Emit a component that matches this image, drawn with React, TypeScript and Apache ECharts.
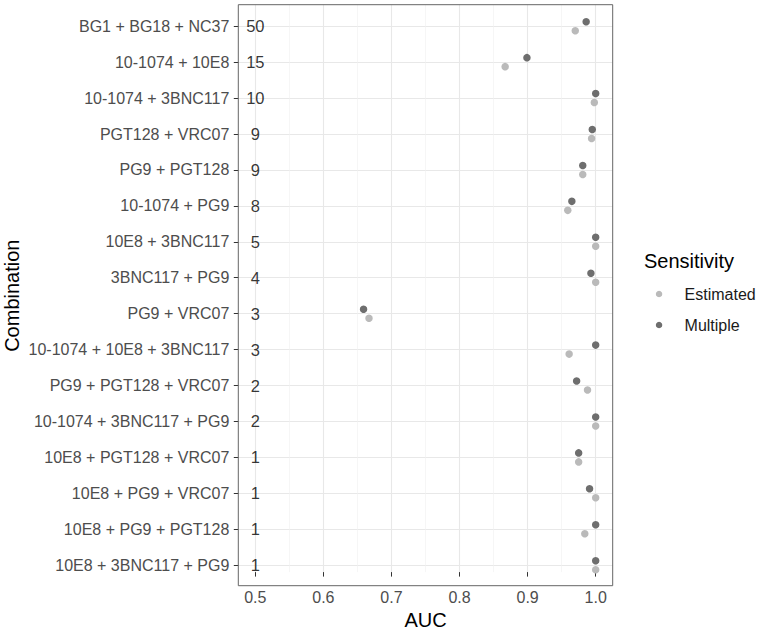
import { useEffect, useRef } from "react";
import * as echarts from "echarts";

const combinations = [
  "BG1 + BG18 + NC37",
  "10-1074 + 10E8",
  "10-1074 + 3BNC117",
  "PGT128 + VRC07",
  "PG9 + PGT128",
  "10-1074 + PG9",
  "10E8 + 3BNC117",
  "3BNC117 + PG9",
  "PG9 + VRC07",
  "10-1074 + 10E8 + 3BNC117",
  "PG9 + PGT128 + VRC07",
  "10-1074 + 3BNC117 + PG9",
  "10E8 + PGT128 + VRC07",
  "10E8 + PG9 + VRC07",
  "10E8 + PG9 + PGT128",
  "10E8 + 3BNC117 + PG9",
];
const counts = [50, 15, 10, 9, 9, 8, 5, 4, 3, 3, 2, 2, 1, 1, 1, 1];
const estimatedAUC = [0.97, 0.867, 0.998, 0.994, 0.981, 0.959, 1.0, 1.0, 0.667, 0.961, 0.988, 1.0, 0.975, 1.0, 0.984, 1.0];
const multipleAUC = [0.986, 0.899, 1.0, 0.995, 0.981, 0.965, 1.0, 0.993, 0.659, 1.0, 0.972, 1.0, 0.975, 0.991, 1.0, 1.0];
const xTicks = [0.5, 0.6, 0.7, 0.8, 0.9, 1.0];
const countPositionX = 0.5;
const xMin = 0.475;
const xMax = 1.025;

const FONT = "'Liberation Sans', Arial, Helvetica, sans-serif";

// layout
const W = 760;
const H = 635;
const P_LEFT = 238.3;
const P_RIGHT = 612.7;
const P_TOP = 4.7;
const P_BOTTOM = 585.7;
const ROW_FIRST = 26.2;
const ROW_LAST = 565.2;

export default function App() {
  const ref = useRef<HTMLDivElement>(null);
  useEffect(() => {
    if (!ref.current) return;
    const chart = echarts.init(ref.current, undefined, { renderer: "svg" });
    const option: any = {
      animation: false,
      backgroundColor: "#ffffff",
      textStyle: { fontFamily: FONT },
      title: {
        text: "Sensitivity",
        left: 644,
        top: 251,
        padding: 0,
        textStyle: { fontSize: 20, fontWeight: "normal", color: "#000", fontFamily: FONT },
      },
      legend: {
        orient: "vertical",
        left: 655.8,
        top: 286,
        padding: 0,
        itemWidth: 41,
        itemHeight: 6.5,
        itemGap: 15,
        selectedMode: false,
        data: [
          { name: "Estimated", icon: "circle" },
          { name: "Multiple", icon: "circle" },
        ],
        textStyle: { fontSize: 16, color: "#1a1a1a", fontFamily: FONT },
      },
      grid: [
        { left: P_LEFT, right: W - P_RIGHT, top: P_TOP, bottom: H - P_BOTTOM, show: false },
        { left: P_LEFT, right: W - P_RIGHT, top: ROW_FIRST, bottom: H - ROW_LAST, show: false },
      ],
      xAxis: [
        {
          gridIndex: 0,
          type: "value",
          min: xMin,
          max: xMax,
          name: "AUC",
          nameLocation: "middle",
          nameGap: 29,
          nameTextStyle: { fontSize: 20, color: "#000", fontFamily: FONT },
          axisLine: { show: false },
          axisTick: { show: true, length: 4.5, customValues: xTicks, lineStyle: { color: "#333" } },
          axisLabel: {
            customValues: xTicks,
            formatter: (v: number) => v.toFixed(1),
            margin: 17,
            fontSize: 16,
            color: "#4d4d4d",
            fontFamily: FONT,
          },
          splitLine: { show: true, lineStyle: { color: "#e8e8e8", width: 1.1 } },
          minorTick: { show: false, splitNumber: 2 },
          minorSplitLine: { show: true, lineStyle: { color: "#f0f0f0", width: 0.6 } },
        },
        { gridIndex: 1, type: "value", min: xMin, max: xMax, show: false },
      ],
      yAxis: [
        { gridIndex: 0, type: "value", show: false },
        {
          gridIndex: 1,
          type: "category",
          data: combinations,
          inverse: true,
          boundaryGap: false,
          name: "Combination",
          nameLocation: "middle",
          nameGap: 216,
          nameRotate: 90,
          nameTextStyle: { fontSize: 20, color: "#000", fontFamily: FONT },
          axisLine: { show: false },
          axisTick: { show: true, interval: 0, length: 4.5, lineStyle: { color: "#333" } },
          axisLabel: { interval: 0, margin: 9, fontSize: 16, color: "#4d4d4d", fontFamily: FONT },
          splitLine: { show: true, interval: 0, lineStyle: { color: "#e8e8e8", width: 1.1 } },
        },
      ],
      series: [
        {
          name: "Estimated",
          type: "scatter",
          xAxisIndex: 1,
          yAxisIndex: 1,
          data: estimatedAUC.map((v, i) => [v, i]),
          symbol: "circle",
          symbolSize: 7.5,
          symbolOffset: [0, 4.5],
          itemStyle: { color: "#bababa", opacity: 1 },
          z: 3,
        },
        {
          name: "Multiple",
          type: "scatter",
          xAxisIndex: 1,
          yAxisIndex: 1,
          data: multipleAUC.map((v, i) => [v, i]),
          symbol: "circle",
          symbolSize: 7.5,
          symbolOffset: [0, -4.5],
          itemStyle: { color: "#6e6e6e", opacity: 1 },
          z: 3,
        },
        {
          name: "n",
          type: "scatter",
          xAxisIndex: 1,
          yAxisIndex: 1,
          data: counts.map((c, i) => [countPositionX, i, c]),
          symbolSize: 1,
          itemStyle: { color: "rgba(0,0,0,0)" },
          label: {
            show: true,
            position: "inside",
            formatter: (p: any) => String(p.value[2]),
            fontSize: 16.5,
            color: "#000",
            fontFamily: FONT,
          },
          z: 4,
        },
      ],
      graphic: [
        {
          type: "rect",
          silent: true,
          z: 100,
          shape: { x: P_LEFT, y: P_TOP, width: P_RIGHT - P_LEFT, height: P_BOTTOM - P_TOP },
          style: { fill: "none", stroke: "#666", lineWidth: 1 },
        },
      ],
    };
    chart.setOption(option);
    return () => chart.dispose();
  }, []);
  return <div ref={ref} style={{ position: "absolute", left: 0, top: 0, width: W, height: H }} />;
}
